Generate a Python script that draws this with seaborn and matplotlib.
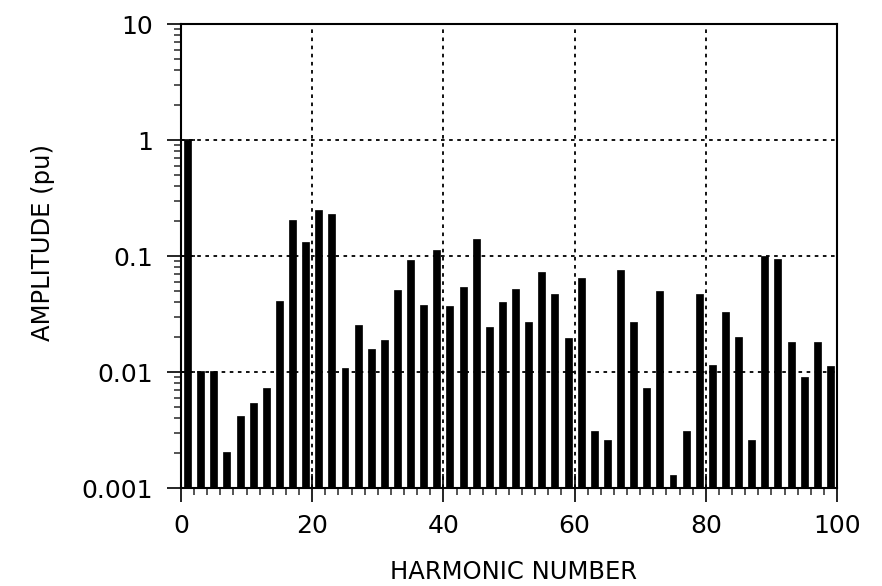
import matplotlib
matplotlib.use("Agg")
import matplotlib.pyplot as plt
import seaborn as sns
import pandas as pd
from matplotlib.ticker import MultipleLocator, LogLocator, FixedLocator, FixedFormatter, NullFormatter

# ---- data ----
harmonics = list(range(1, 100, 2))
amplitudes = [
    1.0, 0.0103, 0.0101, 0.00204, 0.0042, 0.00545, 0.0073, 0.041, 0.203, 0.133,
    0.249, 0.232, 0.0109, 0.0256, 0.0158, 0.0187, 0.0513, 0.092, 0.038, 0.112,
    0.037, 0.054, 0.139, 0.0243, 0.0399, 0.052, 0.027, 0.073, 0.047, 0.0198,
    0.064, 0.0031, 0.0026, 0.076, 0.027, 0.0073, 0.050, 0.0013, 0.0031, 0.047,
    0.0115, 0.033, 0.020, 0.0026, 0.100, 0.095, 0.018, 0.009, 0.018, 0.0113,
]
x_ticks = [0, 20, 40, 60, 80, 100]
y_ticks = [0.001, 0.01, 0.1, 1, 10]
y_tick_labels = ["0.001", "0.01", "0.1", "1", "10"]
x_label = "HARMONIC NUMBER"
y_label = "AMPLITUDE (pu)"

df = pd.DataFrame({"harmonic": harmonics, "amplitude": amplitudes})

sns.set_style("white")
plt.rcParams["font.family"] = ["DejaVu Sans"]

fig = plt.figure(figsize=(8.82, 5.86), dpi=100)
ax = fig.add_axes([181 / 882, 1 - 488 / 586, (837 - 181) / 882, (488 - 24) / 586])

sns.barplot(data=df, x="harmonic", y="amplitude", native_scale=True, width=0.53,
            color="black", edgecolor="black", linewidth=0.5, saturation=1, ax=ax, zorder=3)

ax.set_yscale("log")
ax.set_ylim(0.001, 10)
ax.set_xlim(0, 100)

ax.xaxis.set_major_locator(FixedLocator(x_ticks))
ax.xaxis.set_minor_locator(MultipleLocator(2))
ax.yaxis.set_major_locator(FixedLocator(y_ticks))
ax.yaxis.set_major_formatter(FixedFormatter(y_tick_labels))
ax.yaxis.set_minor_locator(LogLocator(base=10, subs=range(2, 10)))
ax.yaxis.set_minor_formatter(NullFormatter())

ax.tick_params(axis="both", which="major", direction="inout", length=20, width=1.2,
               labelsize=18, colors="black", bottom=True, left=True, top=False, right=False)
ax.tick_params(axis="both", which="minor", direction="out", length=5, width=1.1,
               bottom=True, left=True, top=False, right=False)
ax.tick_params(axis="y", which="major", pad=10)
ax.tick_params(axis="x", which="major", pad=9)

for s in ax.spines.values():
    s.set_color("black")
    s.set_linewidth(1.5)

ax.grid(True, which="major", color="black", linestyle=(0, (2, 2.5)), linewidth=1.3, zorder=1)
ax.set_axisbelow(True)

ax.set_xlabel(x_label, fontsize=17.5, color="black")
ax.set_ylabel(y_label, fontsize=17.5, color="black")
ax.xaxis.set_label_coords((513 - 181) / 656, (488 - 560) / 464)
ax.yaxis.set_label_coords((55 - 181) / 656, (488 - 243) / 464)

fig.savefig("out.png", dpi=100, facecolor="white")
